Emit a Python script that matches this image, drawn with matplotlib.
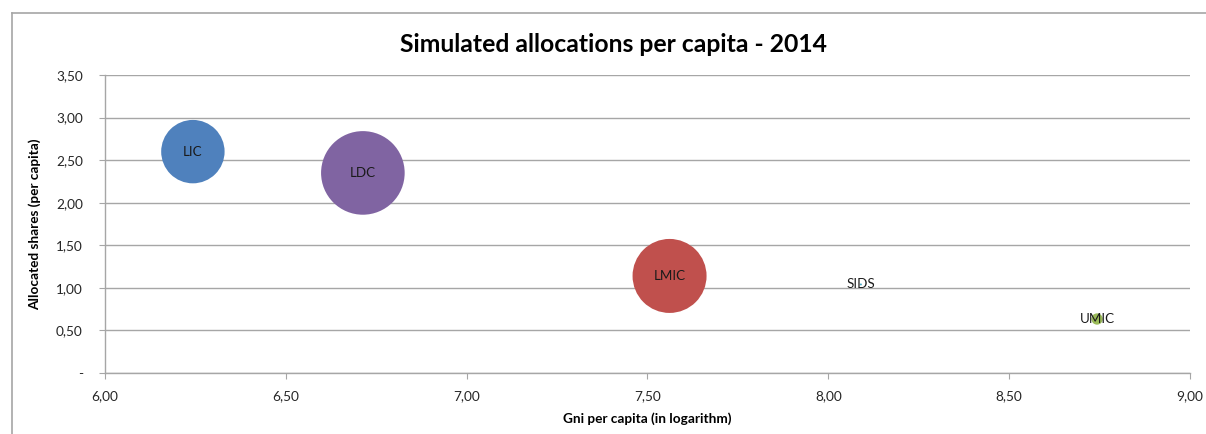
"""Bubble chart: simulated allocations per capita, 2014."""
import matplotlib
matplotlib.use('Agg')
import matplotlib.pyplot as plt
import numpy as np
from matplotlib.ticker import FuncFormatter

plt.rcParams.update({
    'font.family': ['Lato', 'DejaVu Sans'],
    'font.size': 9,
})

# ── Data ──
groups = ['LIC', 'LMIC', 'UMIC', 'LDC', 'SIDS']
gni_log = [6.243, 7.561, 8.743, 6.713, 8.09]
alloc_pc = [2.60, 1.14, 0.634, 2.35, 1.04]
bubble_val = [1005, 1369, 32, 1747, 1]      # relative bubble areas
colors = ['#4F81BD', '#C0504D', '#9BBB59', '#8064A2', '#4BACC6']

x_ticks = [6.0, 6.5, 7.0, 7.5, 8.0, 8.5, 9.0]
y_ticks = [0.0, 0.5, 1.0, 1.5, 2.0, 2.5, 3.0, 3.5]

W, H = 1206, 434
fig = plt.figure(figsize=(W / 100, H / 100), dpi=100)
ax = fig.add_axes([105 / W, 1 - 373 / H, (1190 - 105) / W, (373 - 75) / H])

# outer chart frame (left + top border)
fig.add_artist(plt.Line2D([12 / W, 12 / W], [0, 1 - 13 / H], color='#A6A6A6', lw=1.2))
fig.add_artist(plt.Line2D([12 / W, 1], [1 - 13 / H, 1 - 13 / H], color='#A6A6A6', lw=1.2))

# bubble sizes: largest bubble radius ~41.8 px
max_r_pt = 41.8 * 0.72
vals = np.array(bubble_val, dtype=float)
radii = max_r_pt * np.sqrt(vals / vals.max())
sizes = (2 * radii) ** 2

for g, x, y, s, c in zip(groups, gni_log, alloc_pc, sizes, colors):
    ax.scatter(x, y, s=s, color=c, edgecolors='none', zorder=3)
    ax.text(x, y, g, ha='center', va='center', fontsize=9.6, color='#1a1a1a', zorder=4)

ax.set_xlim(6.0, 9.0)
ax.set_ylim(0.0, 3.5)
ax.set_xticks(x_ticks)
ax.set_yticks(y_ticks)

comma = lambda v, p: f'{v:.2f}'.replace('.', ',')
ax.xaxis.set_major_formatter(FuncFormatter(comma))
ax.yaxis.set_major_formatter(FuncFormatter(lambda v, p: '-' if v == 0 else comma(v, p)))

ax.grid(axis='y', color='#A6A6A6', lw=1.0)
ax.set_axisbelow(True)
for side in ['top', 'right']:
    ax.spines[side].set_visible(False)
for side in ['left', 'bottom']:
    ax.spines[side].set_color('#A6A6A6')
    ax.spines[side].set_linewidth(1.0)
ax.tick_params(axis='both', length=4, color='#A6A6A6', labelsize=9.8, labelcolor='#262626')
ax.tick_params(axis='y', pad=12)
ax.tick_params(axis='x', pad=8)

ax.set_xlabel('Gni per capita (in logarithm)', fontsize=9.8, fontweight='bold', labelpad=8)
ax.set_ylabel('Allocated shares (per capita)', fontsize=9.8, fontweight='bold', labelpad=11)

fig.text(614 / W, 1 - 45 / H, 'Simulated allocations per capita - 2014',
         ha='center', va='center', fontsize=17.8, fontweight='bold')

fig.savefig('out.png', dpi=100)
